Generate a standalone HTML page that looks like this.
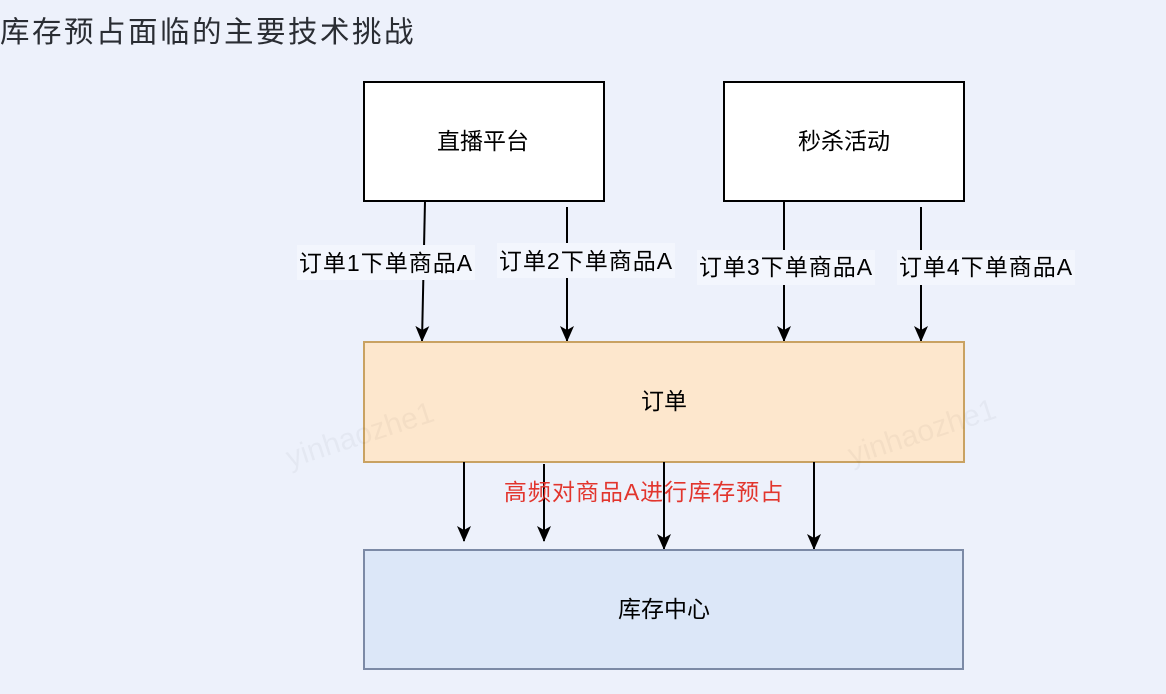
<!DOCTYPE html>
<html>
<head>
<meta charset="utf-8">
<style>
  html,body{margin:0;padding:0;}
  body{width:1166px;height:694px;overflow:hidden;background:#edf1fb;}
  svg{display:block;}
  text{font-family:"Liberation Sans","Noto Sans CJK SC",sans-serif;}
</style>
</head>
<body>
<svg width="1166" height="694" viewBox="0 0 1166 694" xmlns="http://www.w3.org/2000/svg">
  <defs>
    <marker id="ah" viewBox="0 0 16 14" refX="15" refY="7" markerWidth="16" markerHeight="14" markerUnits="userSpaceOnUse" orient="auto">
      <path d="M0,0 L16,7 L0,14 L4,7 Z" fill="#000"/>
    </marker>
  </defs>
  <rect x="0" y="0" width="1166" height="694" fill="#edf1fb"/>

  <!-- title -->
  <text x="0" y="42" font-size="29.5" fill="#2a2d33" letter-spacing="2.5">库存预占面临的主要技术挑战</text>

  <!-- top boxes -->
  <rect x="364" y="82" width="240" height="119" fill="#ffffff" stroke="#000" stroke-width="2"/>
  <text x="483" y="149" font-size="23" text-anchor="middle" fill="#000">直播平台</text>
  <rect x="724" y="82" width="240" height="119" fill="#ffffff" stroke="#000" stroke-width="2"/>
  <text x="844" y="149" font-size="23" text-anchor="middle" fill="#000">秒杀活动</text>

  <!-- connectors top -->
  <line x1="425" y1="201" x2="422" y2="341" stroke="#000" stroke-width="2" marker-end="url(#ah)"/>
  <line x1="567" y1="207" x2="567" y2="341" stroke="#000" stroke-width="2" marker-end="url(#ah)"/>
  <line x1="784" y1="201" x2="784" y2="341" stroke="#000" stroke-width="2" marker-end="url(#ah)"/>
  <line x1="921" y1="207" x2="921" y2="341" stroke="#000" stroke-width="2" marker-end="url(#ah)"/>

  <!-- labels -->
  <rect x="297" y="245" width="178" height="35" fill="#f3f6fd"/>
  <text x="386" y="271" font-size="23" text-anchor="middle" fill="#000" letter-spacing="1">订单1下单商品A</text>
  <rect x="497" y="243" width="178" height="35" fill="#f3f6fd"/>
  <text x="586" y="269" font-size="23" text-anchor="middle" fill="#000" letter-spacing="1">订单2下单商品A</text>
  <rect x="697" y="250" width="178" height="35" fill="#f3f6fd"/>
  <text x="786" y="275" font-size="23" text-anchor="middle" fill="#000" letter-spacing="1">订单3下单商品A</text>
  <rect x="897" y="250" width="178" height="35" fill="#f3f6fd"/>
  <text x="986" y="275" font-size="23" text-anchor="middle" fill="#000" letter-spacing="1">订单4下单商品A</text>

  <!-- order box -->
  <rect x="364" y="342" width="600" height="120" fill="#fde7cd" stroke="#c9a262" stroke-width="2"/>
  <text x="664" y="409" font-size="23" text-anchor="middle" fill="#000">订单</text>

  <!-- watermarks -->
  <text x="290" y="468" font-size="30" fill="#000" fill-opacity="0.035" transform="rotate(-18 290 468)">yinhaozhe1</text>
  <text x="852" y="465" font-size="30" fill="#000" fill-opacity="0.035" transform="rotate(-18 852 465)">yinhaozhe1</text>

  <!-- bottom connectors -->
  <line x1="464" y1="462" x2="464" y2="541" stroke="#000" stroke-width="2" marker-end="url(#ah)"/>
  <line x1="544" y1="464" x2="544" y2="541" stroke="#000" stroke-width="2" marker-end="url(#ah)"/>
  <line x1="664" y1="462" x2="664" y2="549" stroke="#000" stroke-width="2" marker-end="url(#ah)"/>
  <line x1="814" y1="462" x2="814" y2="549" stroke="#000" stroke-width="2" marker-end="url(#ah)"/>

  <text x="644" y="500" font-size="23" text-anchor="middle" fill="#e2352d" letter-spacing="1">高频对商品A进行库存预占</text>

  <!-- inventory center -->
  <rect x="364" y="550" width="599" height="119" fill="#dce7f8" stroke="#7c8aa6" stroke-width="2"/>
  <text x="664" y="617" font-size="23" text-anchor="middle" fill="#000">库存中心</text>
</svg>
</body>
</html>
